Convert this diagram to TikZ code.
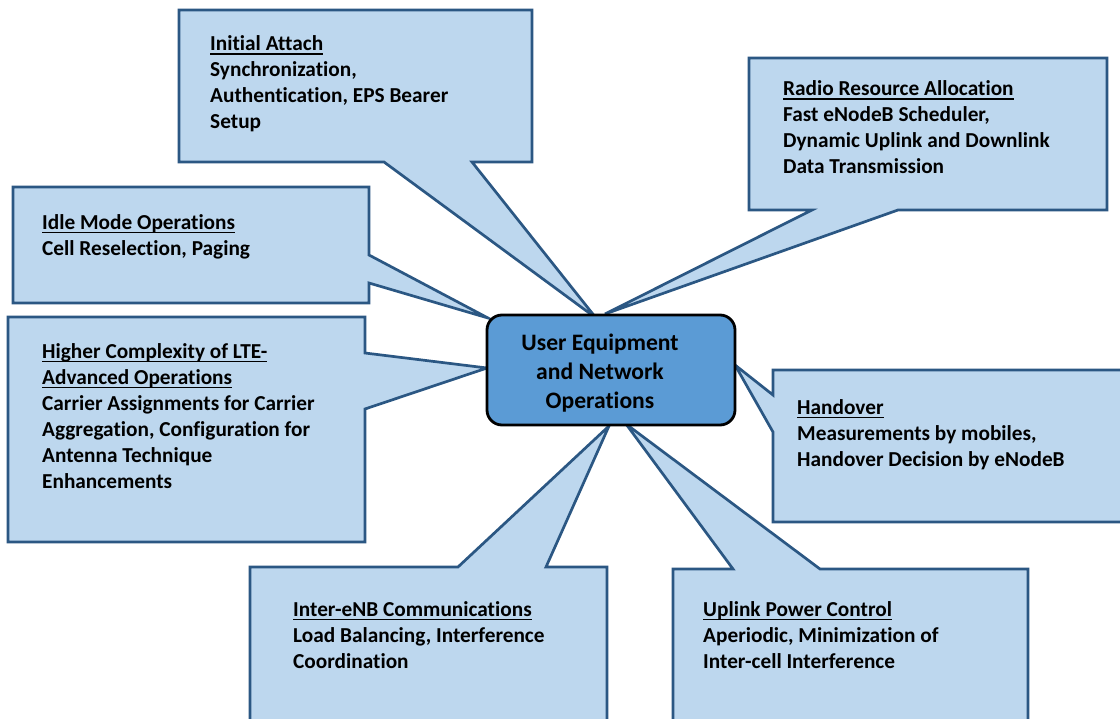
\documentclass[tikz,border=0pt]{standalone}
\usepackage{fontspec}
\setmainfont{Carlito}[Ligatures={NoCommon}]
\definecolor{calfill}{HTML}{BDD7EE}
\definecolor{caledge}{HTML}{2B5783}
\definecolor{uefill}{HTML}{5B9BD5}
\newcommand\hdul[1]{\leavevmode\setbox0\hbox{#1}\rlap{\rule[-4.3bp]{\wd0}{1.8bp}}\box0}
\tikzset{
  callout/.style={fill=calfill, draw=caledge, line width=2.7bp, line join=miter},
  caltext/.style={anchor=base west, inner sep=0pt, font=\fontsize{21.3bp}{26bp}\selectfont\bfseries},
  uebox/.style={draw=black, line width=2.8bp, fill=uefill, rounded corners=15bp, minimum width=248bp, minimum height=110bp, inner sep=0pt},
  uetext/.style={anchor=base, inner sep=0pt, font=\fontsize{23.6bp}{29bp}\selectfont\bfseries}
}
\begin{document}
\begin{tikzpicture}[x=1bp,y=-1bp]
\clip (0,0) rectangle (1120,719);
\fill[white] (0,0) rectangle (1120,719);
% pointer tips
\coordinate (tInit) at (596,318);
\coordinate (tRadio) at (605,314);
\coordinate (tIdle) at (488,318);
\coordinate (tHigh) at (487,368);
\coordinate (tHand) at (735,365);
\coordinate (tInter) at (609,426);
\coordinate (tUp) at (626,424);
% callouts
\draw[callout] (179,10) -- (532,10) -- (532,162) -- (472,162) -- (tInit) -- (384,162) -- (179,162) -- cycle;
\draw[callout] (749,58) -- (1107,58) -- (1107,210) -- (898,210) -- (tRadio) -- (812,210) -- (749,210) -- cycle;
\draw[callout] (13,187) -- (369,187) -- (369,255) -- (tIdle) -- (369,283) -- (369,303) -- (13,303) -- cycle;
\draw[callout] (8,317) -- (365,317) -- (365,353) -- (tHigh) -- (365,409) -- (365,542) -- (8,542) -- cycle;
\draw[callout] (773,370) -- (1130,370) -- (1130,522) -- (773,522) -- (773,432) -- (tHand) -- (773,395) -- cycle;
\draw[callout] (250,567) -- (458,567) -- (tInter) -- (546,567) -- (607,567) -- (607,730) -- (250,730) -- cycle;
\draw[callout] (673,569) -- (733,569) -- (tUp) -- (820,569) -- (1028,569) -- (1028,730) -- (673,730) -- cycle;
% central box
\node[uebox] (ue) at (611,370) {};
\node[uetext] (uet) at (600,350) {\begin{tabular}[t]{@{}c@{}}User Equipment\\and Network\\Operations\end{tabular}};
% texts
\node[caltext] (init) at (210,51) {\begin{tabular}[t]{@{}l@{}}\hdul{Initial Attach}\\Synchronization,\\Authentication, EPS Bearer\\Setup\end{tabular}};
\node[caltext] (radio) at (783,96) {\begin{tabular}[t]{@{}l@{}}\hdul{Radio Resource Allocation}\\Fast eNodeB Scheduler,\\Dynamic Uplink and Downlink\\Data Transmission\end{tabular}};
\node[caltext] (idle) at (42,229) {\begin{tabular}[t]{@{}l@{}}\hdul{Idle Mode Operations}\\Cell Reselection, Paging\end{tabular}};
\node[caltext] (high) at (42,358) {\begin{tabular}[t]{@{}l@{}}\hdul{Higher Complexity of LTE-}\\\hdul{Advanced Operations}\\Carrier Assignments for Carrier\\Aggregation, Configuration for\\Antenna Technique\\Enhancements\end{tabular}};
\node[caltext] (hand) at (797,414) {\begin{tabular}[t]{@{}l@{}}\hdul{Handover}\\Measurements by mobiles,\\Handover Decision by eNodeB\end{tabular}};
\node[caltext] (inter) at (293,616) {\begin{tabular}[t]{@{}l@{}}\hdul{Inter-eNB Communications}\\Load Balancing, Interference\\Coordination\end{tabular}};
\node[caltext] (up) at (703,616) {\begin{tabular}[t]{@{}l@{}}\hdul{Uplink Power Control}\\Aperiodic, Minimization of\\Inter-cell Interference\end{tabular}};
\end{tikzpicture}
\end{document}
